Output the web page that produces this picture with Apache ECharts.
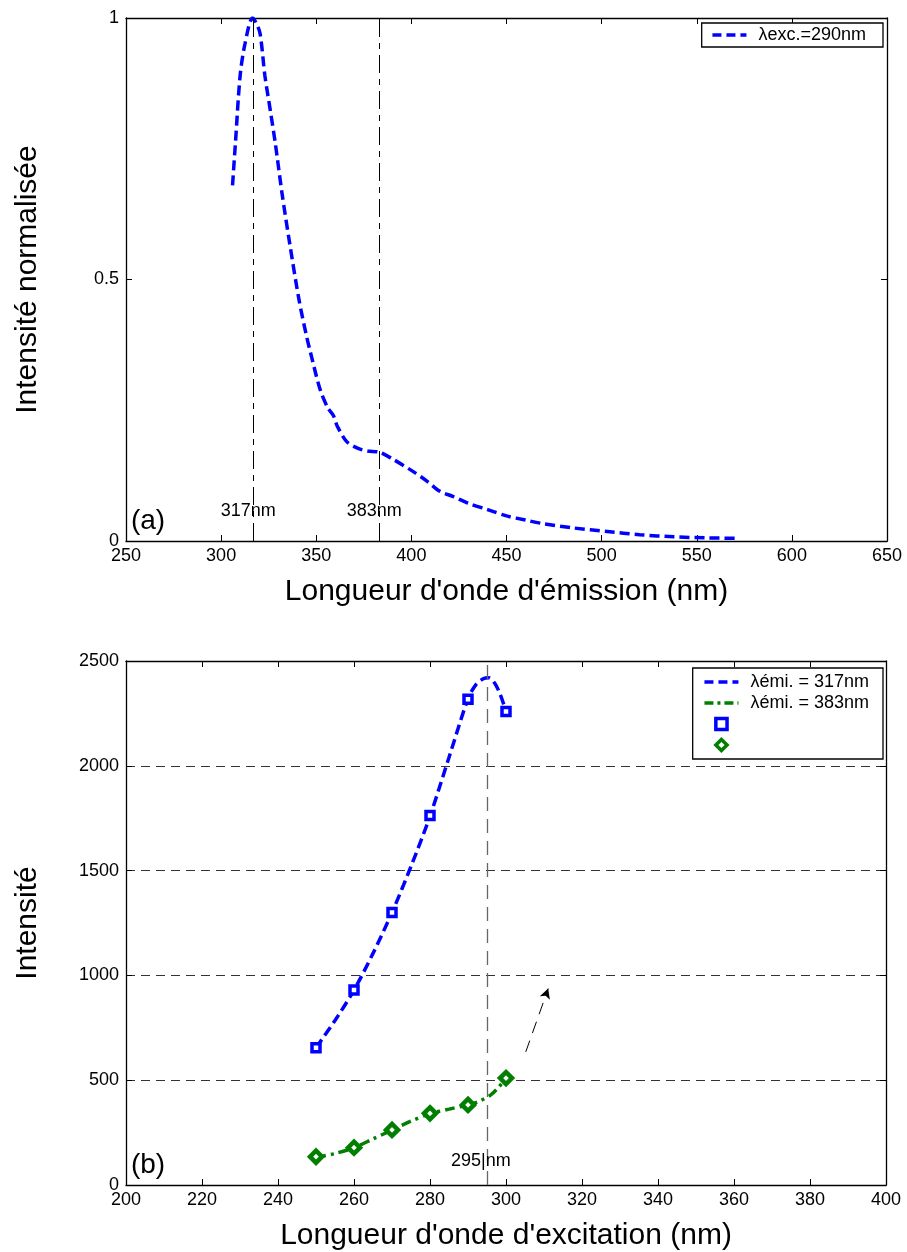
<!DOCTYPE html>
<html>
<head>
<meta charset="utf-8">
<script src="https://cdn.jsdelivr.net/npm/echarts/dist/echarts.min.js"></script>
<style>html,body{margin:0;padding:0;background:#fff}#c{width:907px;height:1252px}</style>
</head>
<body>
<div id="c"></div>
<script>
// ---- Panel (a): emission spectrum, λexc = 290 nm ----
const emiWavelength = [306,307.5,310,312.5,316.5,318.5,320.5,323,326,328.5,332,336,341,345,347,352,356,359,361,366,372,377,383,390,400,408,415,422,430,440,450,460,468,485,503,520,538,555,571];
const emiIntensity  = [0.68,0.76,0.89,0.95,1.0,0.99,0.97,0.89,0.82,0.76,0.665,0.57,0.46,0.39,0.36,0.29,0.255,0.24,0.22,0.19,0.177,0.172,0.17,0.157,0.135,0.115,0.095,0.085,0.072,0.06,0.048,0.04,0.034,0.025,0.018,0.012,0.008,0.006,0.005];
const emiPeaks = [317, 383];
const xTicksA = [250,300,350,400,450,500,550,600,650];
const yTicksA = [0,0.5,1];

// ---- Panel (b): excitation spectra ----
const excCurve317X = [250,255,260,265,270,275,280,285,290,292,294,295.5,297,298.5,300];
const excCurve317Y = [655,785,930,1105,1300,1520,1760,2040,2320,2385,2415,2420,2395,2340,2260];
const excCurve383X = [250,255,260,265,270,275,280,285,290,293,296,298,300];
const excCurve383Y = [132,150,178,220,262,305,340,362,382,400,430,465,510];
const excPointsX = [250,260,270,280,290,300];
const exc317Points = [655,930,1300,1763,2318,2259];
const exc383Points = [135,178,263,342,382,510];
const excPeak = 295;
const arrowFrom = [305.2, 635];
const arrowTo = [311.1, 937];
const xTicksB = [200,220,240,260,280,300,320,340,360,380,400];
const yTicksB = [0,500,1000,1500,2000,2500];

const FONT = "'Liberation Sans', Arial, Helvetica, sans-serif";
const BLUE = '#0000ff', GREEN = '#007f00';
const zip = (xs, ys) => xs.map((x, i) => [x, ys[i]]);

const chart = echarts.init(document.getElementById('c'), null, {renderer: 'canvas'});

function boxAxes(gridIndex, xTicks, yTicks, xName, yName, ySplit) {
  const xmin = xTicks[0], xmax = xTicks[xTicks.length - 1], xint = xTicks[1] - xTicks[0];
  const ymin = yTicks[0], ymax = yTicks[yTicks.length - 1], yint = yTicks[1] - yTicks[0];
  const tick = {show: true, inside: true, length: 6, lineStyle: {color: '#000', width: 1}};
  const line = {show: true, onZero: false, lineStyle: {color: '#000', width: 1.3}};
  const lab = {fontFamily: FONT, fontSize: 18, color: '#000', formatter: v => String(v)};
  return {
    x: [
      {gridIndex, type: 'value', min: xmin, max: xmax, interval: xint, position: 'bottom',
       axisLine: line, axisTick: tick, splitLine: {show: false},
       axisLabel: Object.assign({margin: 6}, lab),
       name: xName, nameLocation: 'middle', nameGap: 36,
       nameTextStyle: {fontFamily: FONT, fontSize: 30, color: '#000'}},
      {gridIndex, type: 'value', min: xmin, max: xmax, interval: xint, position: 'top',
       axisLine: line, axisTick: tick, splitLine: {show: false}, axisLabel: {show: false}}
    ],
    y: [
      {gridIndex, type: 'value', min: ymin, max: ymax, interval: yint, position: 'left',
       axisLine: line, axisTick: tick,
       splitLine: ySplit ? {show: true, lineStyle: {color: '#333', width: 1, type: [9, 6]}} : {show: false},
       axisLabel: Object.assign({margin: 7}, lab),
       name: yName, nameLocation: 'middle', nameGap: 83,
       nameTextStyle: {fontFamily: FONT, fontSize: 30, color: '#000'}},
      {gridIndex, type: 'value', min: ymin, max: ymax, interval: yint, position: 'right',
       axisLine: line, axisTick: tick, splitLine: {show: false}, axisLabel: {show: false}}
    ]
  };
}

const A = boxAxes(0, xTicksA, yTicksA, "Longueur d'onde d'émission (nm)", 'Intensité normalisée', false);
const B = boxAxes(1, xTicksB, yTicksB, "Longueur d'onde d'excitation (nm)", 'Intensité', true);

const labelStyle = {show: true, fontFamily: FONT, fontSize: 18, color: '#000', position: 'inside'};
const lineLegend = (name, color, type) => ({name, itemStyle: {opacity: 0}, lineStyle: {color, width: 3.5, type}});
const markerLegend = (name, color) => ({name, itemStyle: {color: '#fff', borderColor: color, borderWidth: 3.5, opacity: 1}});
const legendText = {fontFamily: FONT, fontSize: 18, color: '#000', padding: [0, 0, 0, 7]};

const option = {
  animation: false,
  backgroundColor: '#fff',
  grid: [
    {left: 126, right: 20, top: 18, height: 523},
    {left: 126, right: 21, top: 661, height: 525}
  ],
  xAxis: [...A.x, ...B.x],
  yAxis: [...A.y, ...B.y],
  legend: [
    {
      right: 24, top: 23, orient: 'vertical', align: 'left',
      backgroundColor: '#fff', borderColor: '#000', borderWidth: 1.3, borderRadius: 0,
      padding: [3, 17, 3, 9], itemWidth: 34, itemHeight: 14, itemGap: 1,
      textStyle: legendText,
      data: [lineLegend('λexc.=290nm', BLUE, [9, 5])]
    },
    {
      right: 24, top: 668, orient: 'vertical', align: 'left',
      backgroundColor: '#fff', borderColor: '#000', borderWidth: 1.3, borderRadius: 0,
      padding: [5, 14, 5, 10], itemWidth: 34, itemHeight: 14, itemGap: 3,
      textStyle: legendText,
      data: [
        lineLegend('λémi. = 317nm', BLUE, [9, 5]),
        lineLegend('λémi. = 383nm', GREEN, [9, 4, 3, 4]),
        markerLegend(' ', BLUE),
        markerLegend('  ', GREEN)
      ]
    }
  ],
  series: [
    {
      name: 'λexc.=290nm', type: 'line', xAxisIndex: 0, yAxisIndex: 0,
      data: zip(emiWavelength, emiIntensity), smooth: 0.3, showSymbol: false, symbol: 'none',
      lineStyle: {color: BLUE, width: 3.5, type: [10, 5]}, itemStyle: {color: BLUE},
      markLine: {
        silent: true, symbol: ['none', 'none'], label: {show: false},
        lineStyle: {color: '#000', width: 1, type: [18, 6, 6, 6]},
        data: emiPeaks.map(v => ({xAxis: v}))
      },
      markPoint: {
        silent: true, symbol: 'circle', symbolSize: 0,
        label: labelStyle,
        data: [
          {coord: [314.3, 0.057], value: emiPeaks[0], label: {formatter: emiPeaks[0] + 'nm'}},
          {coord: [380.5, 0.057], value: emiPeaks[1], label: {formatter: emiPeaks[1] + 'nm'}},
          {coord: [252.6, 0.037], value: 0, label: {formatter: '(a)', fontSize: 28, align: 'left'}}
        ]
      }
    },
    {
      name: 'λémi. = 317nm', type: 'line', xAxisIndex: 2, yAxisIndex: 2,
      data: zip(excCurve317X, excCurve317Y), smooth: 0.3, showSymbol: false, symbol: 'none',
      lineStyle: {color: BLUE, width: 3.5, type: [10, 5]}, itemStyle: {color: BLUE},
      markLine: {
        silent: true, symbol: ['none', 'none'], label: {show: false},
        lineStyle: {color: '#666', width: 1.3, type: [14, 8]},
        data: [{xAxis: excPeak}]
      },
      markPoint: {
        silent: true, symbol: 'circle', symbolSize: 0,
        label: labelStyle,
        data: [
          {coord: [293.4, 114], value: excPeak, label: {formatter: excPeak + '|nm'}},
          {coord: [201.3, 95], value: 0, label: {formatter: '(b)', fontSize: 28, align: 'left'}}
        ]
      }
    },
    {
      name: 'λémi. = 383nm', type: 'line', xAxisIndex: 2, yAxisIndex: 2,
      data: zip(excCurve383X, excCurve383Y), smooth: 0.3, showSymbol: false, symbol: 'none',
      lineStyle: {color: GREEN, width: 3.5, type: [10, 5, 3, 5]}, itemStyle: {color: GREEN},
      markLine: {
        silent: true, symbol: ['none', 'arrow'], symbolSize: [8, 10], label: {show: false},
        lineStyle: {color: '#000', width: 1, type: [12, 8]},
        data: [[{coord: arrowFrom}, {coord: arrowTo}]]
      }
    },
    {
      name: ' ', type: 'line', xAxisIndex: 2, yAxisIndex: 2,
      data: zip(excPointsX, exc317Points), symbol: 'rect', symbolSize: 8, showSymbol: true,
      lineStyle: {width: 0, opacity: 0},
      itemStyle: {color: '#fff', borderColor: BLUE, borderWidth: 3.5, opacity: 1}, z: 5
    },
    {
      name: '  ', type: 'line', xAxisIndex: 2, yAxisIndex: 2,
      data: zip(excPointsX, exc383Points), symbol: 'diamond', symbolSize: 12, showSymbol: true,
      lineStyle: {width: 0, opacity: 0},
      itemStyle: {color: '#fff', borderColor: GREEN, borderWidth: 4.5, opacity: 1}, z: 5
    }
  ]
};
chart.setOption(option);
</script>
</body>
</html>
